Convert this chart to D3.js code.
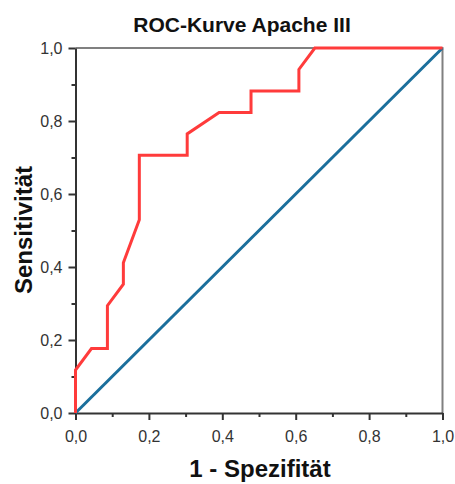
<!DOCTYPE html>
<html>
<head>
<meta charset="utf-8">
<script src="https://cdn.jsdelivr.net/npm/d3@7"></script>
<style>
  html, body { margin: 0; padding: 0; background: #fff; }
  svg { display: block; font-family: "Liberation Sans", Arial, sans-serif; }
</style>
</head>
<body>
<svg id="chart" width="455" height="484"></svg>
<script>
// ROC curve for the Apache III score (17 positives, 23 negatives)
const fpr = [0, 0, 1/23, 2/23, 2/23, 3/23, 3/23, 4/23, 4/23, 7/23, 7/23, 9/23, 11/23, 11/23, 14/23, 14/23, 15/23, 1];
const tpr = [0, 2/17, 3/17, 3/17, 5/17, 6/17, 7/17, 9/17, 12/17, 12/17, 13/17, 14/17, 14/17, 15/17, 15/17, 16/17, 1, 1];
const diagonal = [0, 1];
const tickValues = [0, 0.2, 0.4, 0.6, 0.8, 1.0];
const minorTickValues = [0.1, 0.3, 0.5, 0.7, 0.9];
const title = "ROC-Kurve Apache III";
const xLabel = "1 - Spezifität";
const yLabel = "Sensitivität";

const svg = d3.select("#chart");
const plotLeft = 75.5, plotRight = 442.5, plotTop = 48, plotBottom = 413;

const x = d3.scaleLinear().domain([0, 1]).range([plotLeft, plotRight]);
const y = d3.scaleLinear().domain([0, 1]).range([plotBottom, plotTop]);
const fmt = d => d.toFixed(1).replace(".", ",");

// frame: top and right edges
svg.append("path")
  .attr("d", `M${plotLeft},${plotTop}H${plotRight}V${plotBottom}`)
  .attr("fill", "none").attr("stroke", "#808080").attr("stroke-width", 2);

// minor ticks
svg.append("g").attr("transform", `translate(0,${plotBottom})`)
  .call(d3.axisBottom(x).tickValues(minorTickValues).tickSize(4).tickFormat(""))
  .call(g => g.select(".domain").remove());
svg.append("g").attr("transform", `translate(${plotLeft},0)`)
  .call(d3.axisLeft(y).tickValues(minorTickValues).tickSize(4).tickFormat(""))
  .call(g => g.select(".domain").remove());

// major axes
const ax = svg.append("g").attr("transform", `translate(0,${plotBottom})`)
  .call(d3.axisBottom(x).tickValues(tickValues).tickSize(7).tickSizeOuter(0).tickPadding(11).tickFormat(fmt));
const ay = svg.append("g").attr("transform", `translate(${plotLeft},0)`)
  .call(d3.axisLeft(y).tickValues(tickValues).tickSize(7).tickSizeOuter(0).tickPadding(6).tickFormat(fmt));

svg.selectAll(".tick line").attr("stroke", "#333").attr("stroke-width", 2);
[ax, ay].forEach(g => {
  g.select(".domain").attr("stroke", "#333").attr("stroke-width", 2);
  g.selectAll(".tick text").attr("font-size", 16).attr("fill", "#333")
    .attr("font-family", "'Liberation Sans', Arial, sans-serif");
});

// reference diagonal
svg.append("path")
  .datum(diagonal)
  .attr("d", d3.line().x(d => x(d)).y(d => y(d)))
  .attr("fill", "none").attr("stroke", "#1b6f9c").attr("stroke-width", 3);

// ROC curve
svg.append("path")
  .datum(d3.range(fpr.length))
  .attr("d", d3.line().x(i => x(fpr[i])).y(i => y(tpr[i])))
  .attr("fill", "none").attr("stroke", "#ff3b3b").attr("stroke-width", 3)
  .attr("stroke-linejoin", "miter");

// titles
svg.append("text").attr("x", 242).attr("y", 32).attr("text-anchor", "middle")
  .attr("font-size", 21).attr("font-weight", "bold").attr("fill", "#111").text(title);
svg.append("text").attr("x", 260).attr("y", 477).attr("text-anchor", "middle")
  .attr("font-size", 24).attr("font-weight", "bold").attr("fill", "#111").text(xLabel);
svg.append("text").attr("transform", "translate(32,230) rotate(-90)").attr("text-anchor", "middle")
  .attr("font-size", 24).attr("font-weight", "bold").attr("fill", "#111").text(yLabel);
</script>
</body>
</html>
